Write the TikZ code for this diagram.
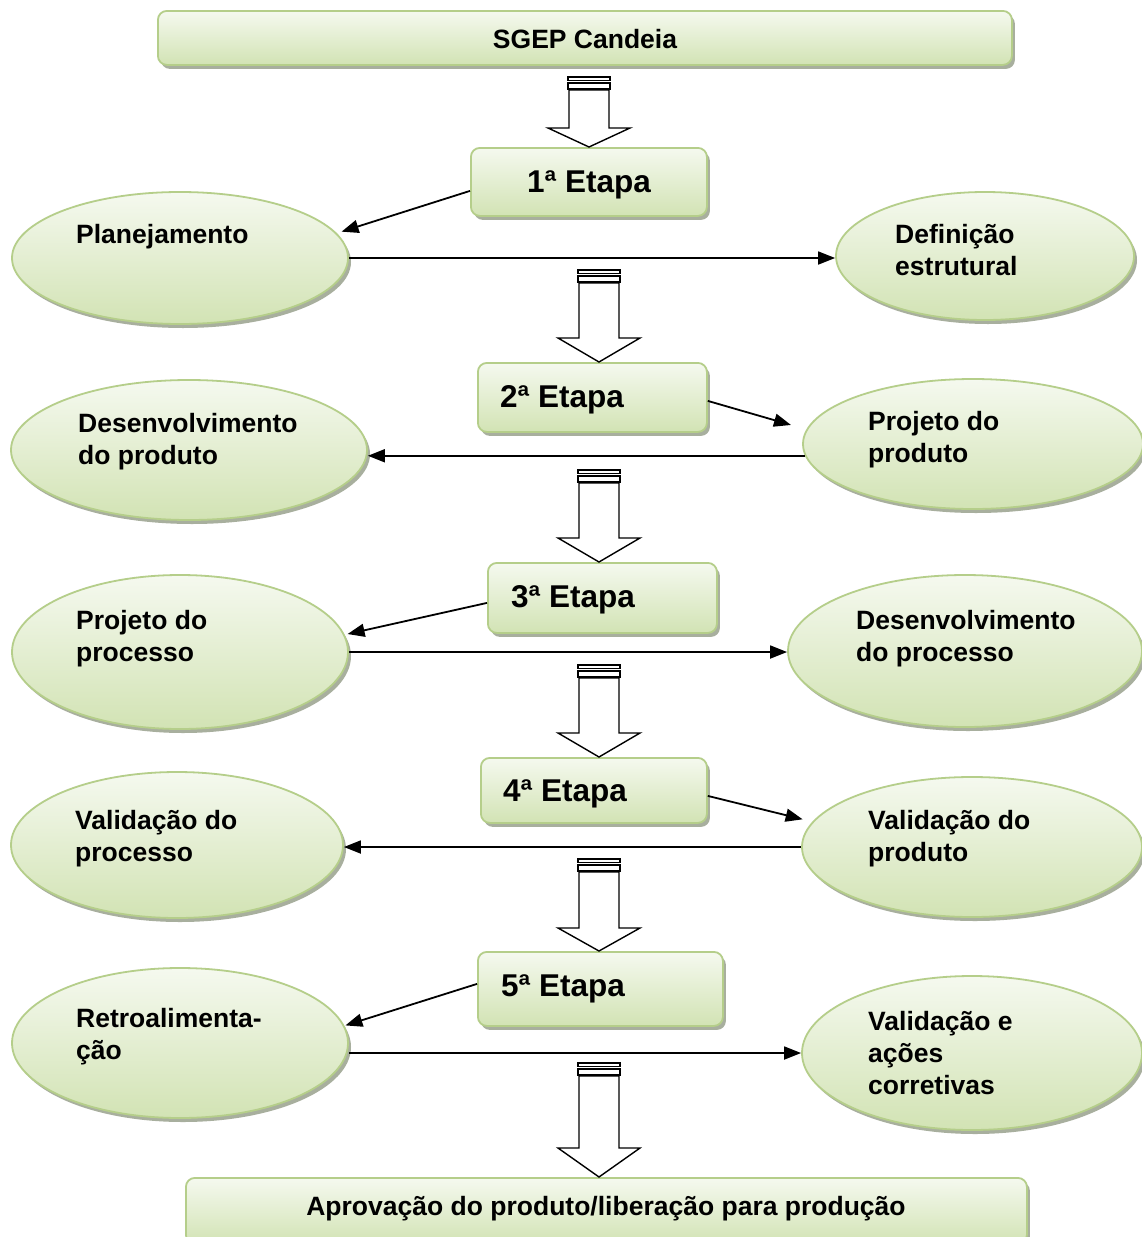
\documentclass[tikz,border=0pt]{standalone}
\usepackage{fontspec}
\setmainfont{Liberation Sans}
\usetikzlibrary{shapes.geometric,arrows.meta,shadows}

\definecolor{edgegreen}{RGB}{181,206,138}
\definecolor{filltop}{RGB}{245,249,239}
\definecolor{fillbot}{RGB}{210,227,180}
\definecolor{shadowgray}{RGB}{168,175,158}

\tikzset{
  x=1pt, y=-1pt,
  greenfill/.style={draw=edgegreen, line width=1.8pt, top color=filltop, bottom color=fillbot,
    drop shadow={shadow xshift=3pt, shadow yshift=-4pt, fill=shadowgray, opacity=1}},
  stagebox/.style={greenfill, rectangle, rounded corners=9pt, inner sep=0pt, anchor=north west},
  topicoval/.style={greenfill, ellipse, inner sep=0pt},
  lbl/.style={font=\fontsize{26.5}{32}\selectfont\bfseries, inner sep=0pt, align=left, anchor=north west},
  stagelbl/.style={font=\fontsize{31.5}{36}\selectfont\bfseries, inner sep=0pt, anchor=base west},
  titlelbl/.style={font=\fontsize{26.5}{32}\selectfont\bfseries, inner sep=0pt, anchor=base},
  conn/.style={line width=1.8pt, -{Triangle[length=17pt,width=13pt]}},
  hollow/.style={draw=black, line width=1.4pt, fill=white, line join=miter},
}

% striped block arrow: #1 tip point, #2 total length, #3 head length
\newcommand\stripedarrow[3]{%
  \begin{scope}[shift={(#1)}]
    \draw[hollow] (-21,-#2) rectangle (21,-#2+3.5);
    \draw[hollow] (-21,-#2+6) rectangle (21,-#2+12);
    \draw[hollow] (-20,-#2+13) -- (20,-#2+13) -- (20,-#3) -- (41,-#3) -- (0,0)
      -- (-41,-#3) -- (-20,-#3) -- cycle;
  \end{scope}}

\begin{document}
\begin{tikzpicture}
\useasboundingbox (0,0) rectangle (1142,1237);
\fill[white] (0,0) rectangle (1142,1237);
\clip (0,0) rectangle (1142,1237);

% stage boxes
\node[stagebox, minimum width=854pt, minimum height=54pt] (b0) at (157,10) {};
\node[stagebox, minimum width=236pt, minimum height=68pt] (b1) at (470,147) {};
\node[stagebox, minimum width=229pt, minimum height=69pt] (b2) at (477,362) {};
\node[stagebox, minimum width=229pt, minimum height=70pt] (b3) at (487,562) {};
\node[stagebox, minimum width=226pt, minimum height=65pt] (b4) at (480,757) {};
\node[stagebox, minimum width=245pt, minimum height=74pt] (b5) at (477,951) {};
\node[stagebox, minimum width=841pt, minimum height=66pt] (b6) at (185,1177) {};

% topic ovals
\node[topicoval, minimum width=336pt, minimum height=132pt] (e1) at (180,258) {};
\node[topicoval, minimum width=298pt, minimum height=128pt] (e2) at (985,256) {};
\node[topicoval, minimum width=356pt, minimum height=140pt] (e3) at (189,450) {};
\node[topicoval, minimum width=340pt, minimum height=130pt] (e4) at (973,444) {};
\node[topicoval, minimum width=336pt, minimum height=154pt] (e5) at (180,652) {};
\node[topicoval, minimum width=354pt, minimum height=152pt] (e6) at (965,651) {};
\node[topicoval, minimum width=332pt, minimum height=146pt] (e7) at (177,845) {};
\node[topicoval, minimum width=340pt, minimum height=140pt] (e8) at (972,847) {};
\node[topicoval, minimum width=336pt, minimum height=150pt] (e9) at (180,1043) {};
\node[topicoval, minimum width=340pt, minimum height=154pt] (e10) at (972,1053) {};

% texts
\node[titlelbl] (t0) at (585,48.5) {SGEP Candeia};
\node[stagelbl] (s1) at (527,192.5) {1ª Etapa};
\node[stagelbl] (s2) at (500,407) {2ª Etapa};
\node[stagelbl] (s3) at (511,607.5) {3ª Etapa};
\node[stagelbl] (s4) at (503,801.5) {4ª Etapa};
\node[stagelbl] (s5) at (501,996.5) {5ª Etapa};
\node[titlelbl] (t6) at (606,1215.5) {Aprovação do produto/liberação para produção};

\node[lbl] (l1) at (76,224) {Planejamento};
\node[lbl] (l2) at (895,224) {Definição\\estrutural};
\node[lbl] (l3) at (78,413) {Desenvolvimento\\do produto};
\node[lbl] (l4) at (868,411) {Projeto do\\produto};
\node[lbl] (l5) at (76,610) {Projeto do\\processo};
\node[lbl] (l6) at (856,610) {Desenvolvimento\\do processo};
\node[lbl] (l7) at (75,810) {Validação do\\processo};
\node[lbl] (l8) at (868,810) {Validação do\\produto};
\node[lbl] (l9) at (76,1008) {Retroalimenta-\\ção};
\node[lbl] (l10) at (868,1011) {Validação e\\ações\\corretivas};

% striped block arrows between stages
\stripedarrow{b1.north -| 589,0}{70}{19}
\stripedarrow{b2.north -| 599,0}{92}{24}
\stripedarrow{b3.north -| 599,0}{92}{24}
\stripedarrow{b4.north -| 599,0}{92}{24}
\stripedarrow{b5.north -| 599,0}{92}{23}
\stripedarrow{b6.north -| 599,0}{114}{29}

% connectors
\draw[conn, shorten >=5pt] ([yshift=-9pt]b1.west) -- (e1.9);
\draw[conn] (e1.east) -- (e1.east -| e2.west);
\draw[conn, shorten >=16pt] ([yshift=-3.5pt]b2.east) -- (e4.175.7);
\draw[conn] (e4.184.5) -- (e4.184.5 -| e3.east);
\draw[conn, shorten >=3pt] ([yshift=-5pt]b3.west) -- (e5.6.5);
\draw[conn] (e5.east) -- (e5.east -| e6.west);
\draw[conn, shorten >=10pt] ([yshift=-5.5pt]b4.east) -- (e8.171);
\draw[conn] (e8.west) -- (e8.west -| e7.east);
\draw[conn, shorten >=1pt] ([yshift=5pt]b5.west) -- (e9.6.8);
\draw[conn] (e9.east |- e10.west) -- (e10.west);
\end{tikzpicture}
\end{document}
